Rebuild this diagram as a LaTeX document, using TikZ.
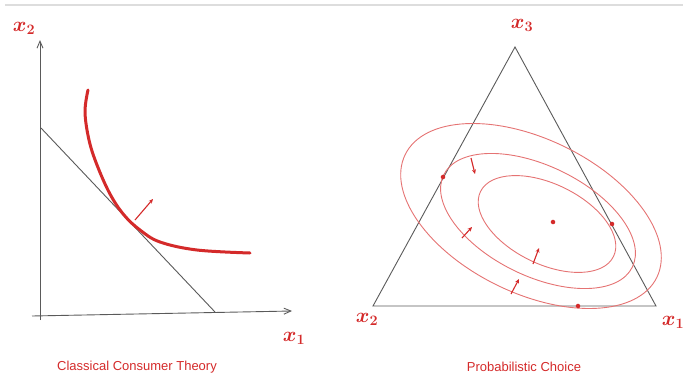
\documentclass[tikz,border=0pt]{standalone}
\usepackage{fontspec}
\setsansfont{Liberation Sans}
\usetikzlibrary{arrows.meta,positioning}
\definecolor{Ink}{HTML}{5A5A5A}
\definecolor{Pen}{HTML}{D42A2A}
\definecolor{Soft}{HTML}{E57373}
\definecolor{Rule}{HTML}{DDDDDD}

\begin{document}
\begin{tikzpicture}[x=1pt,y=-1pt,
    axis/.style={Ink,line width=0.9pt},
    lbl/.style={Pen,font=\huge\boldmath},
    captext/.style={Pen,font=\sffamily\fontsize{13}{15}\selectfont},
    ell/.style={Soft,line width=0.9pt},
    nudge/.style={Pen,line width=1.1pt,-{Stealth[length=4.5pt,width=4pt]}},
    dot/.style={circle,fill=Pen,inner sep=1.6pt}]
  \useasboundingbox (0,0) rectangle (683,383);
  \draw[Rule,line width=1.5pt] (5,5) -- (683,5);
  % left panel
  \coordinate (O) at (40,316);
  \coordinate (ytop) at (40,40);
  \coordinate (xend) at (292,311);
  \coordinate (b1) at (41,128);
  \coordinate (b2) at (215,312);
  \draw[axis,-{Straight Barb[length=7pt,width=6pt]}] (40,320) -- (ytop);
  \draw[axis,-{Straight Barb[length=7pt,width=6pt]}] (32,316) -- (xend);
  \draw[axis] (b1) -- (b2);
  \draw[Pen,line width=3pt,line cap=round] plot[smooth,tension=0.6] coordinates
    {(88,90)(85,112)(89,140)(97,165)(110,194)(124,215)(140,230)(160,242)(197,250)(250,253)};
  \coordinate (tip) at (153,199);
  \draw[nudge] (135,220) -- (tip);
  \node[lbl] (x2l) at (24,28) {$x_2$};
  \node[lbl] (x1l) at (294,338) {$x_1$};
  \node[captext] (capl) at (137,367) {Classical Consumer Theory};
  % right panel
  \coordinate (t3) at (515,47);
  \coordinate (t2) at (373,306);
  \coordinate (t1) at (656,306);
  \draw[axis] (t3) -- (t1) -- (t2) -- cycle;
  \draw[ell,rotate around={-26:(531,216)}] (531,216) ellipse [x radius=140,y radius=77];
  \draw[ell,rotate around={-26:(538,221)}] (538,221) ellipse [x radius=105,y radius=55];
  \draw[ell,rotate around={-26:(547,224)}] (547,224) ellipse [x radius=74,y radius=40];
  \node[dot] (mid) at (553,222) {};
  \node[dot] (pl) at (443,177) {};
  \node[dot] (pr) at (612,224) {};
  \node[dot] (pb) at (578,306) {};
  \draw[nudge] (471,158) -- (475,174);
  \draw[nudge] (462,238) -- (472,227);
  \draw[nudge] (533,264) -- (539,248);
  \draw[nudge] (511,294) -- (519,279);
  \node[lbl] (x3r) at (522,25) {$x_3$};
  \node[lbl] (x2r) at (367,319) {$x_2$};
  \node[lbl] (x1r) at (673,322) {$x_1$};
  \node[captext] (capr) at (524,367) {Probabilistic Choice};
\end{tikzpicture}
\end{document}
